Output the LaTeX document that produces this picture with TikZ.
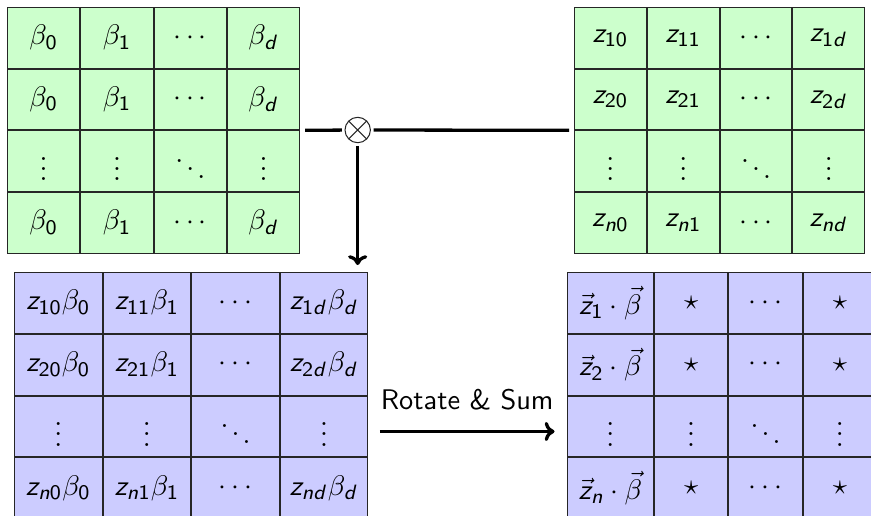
\documentclass[tikz,border=0pt,11pt]{standalone}
\usepackage{amsmath,amssymb}
\usepackage{tikz}
\usetikzlibrary{arrows.meta,matrix,calc}
% sans digits and letters in math, greek stays as is
\DeclareSymbolFont{sfdigits}{OT1}{cmss}{m}{n}
\DeclareSymbolFont{sfletters}{OT1}{cmss}{m}{sl}
\DeclareMathSymbol{0}{\mathalpha}{sfdigits}{`0}
\DeclareMathSymbol{1}{\mathalpha}{sfdigits}{`1}
\DeclareMathSymbol{2}{\mathalpha}{sfdigits}{`2}
\DeclareMathSymbol{z}{\mathalpha}{sfletters}{`z}
\DeclareMathSymbol{d}{\mathalpha}{sfletters}{`d}
\DeclareMathSymbol{n}{\mathalpha}{sfletters}{`n}
\definecolor{CellGreen}{HTML}{CCFFCC}
\definecolor{CellBlue}{HTML}{CCCCFF}
\definecolor{Edge}{HTML}{262626}

\begin{document}
\begin{tikzpicture}[x=0.386pt,y=0.386pt,
    cell/.style={draw=Edge,inner sep=0pt,anchor=center,minimum height=23.4pt},
    grid/.style={matrix of math nodes,inner sep=0pt,outer sep=0pt,
      column sep=0pt,row sep=0pt,anchor=north west},
    conn/.style={line width=1.27pt,line cap=butt},
    tip/.style={-{Computer Modern Rightarrow[length=3.8pt,width=7.4pt]}}]
        \useasboundingbox (0,0) rectangle (871,-515);
        \clip (0,0) rectangle (871,-515);
        % inputs
        \matrix (beta) [grid,nodes={cell,fill=CellGreen,minimum width=27.9pt}] at (7,-7) {
          \beta_0 & \beta_1 & \cdots & \beta_d \\
          \beta_0 & \beta_1 & \cdots & \beta_d \\
          \vdots & \vdots & \ddots & \vdots \\
          \beta_0 & \beta_1 & \cdots & \beta_d \\
        };
        \matrix (zmat) [grid,nodes={cell,fill=CellGreen,minimum width=27.7pt}] at (574,-7) {
          z_{10} & z_{11} & \cdots & z_{1d} \\
          z_{20} & z_{21} & \cdots & z_{2d} \\
          \vdots & \vdots & \ddots & \vdots \\
          z_{n0} & z_{n1} & \cdots & z_{nd} \\
        };
        % outputs
        \matrix (zbeta) [grid,nodes={cell,fill=CellBlue,minimum width=33.8pt,minimum height=23.45pt}] at (14,-272) {
          z_{10}\beta_0 & z_{11}\beta_1 & \cdots & z_{1d}\beta_d \\
          z_{20}\beta_0 & z_{21}\beta_1 & \cdots & z_{2d}\beta_d \\
          \vdots & \vdots & \ddots & \vdots \\
          z_{n0}\beta_0 & z_{n1}\beta_1 & \cdots & z_{nd}\beta_d \\
        };
        \matrix (dotmat) [grid,nodes={cell,fill=CellBlue,minimum width=28.3pt,minimum height=23.45pt},
          column 1/.style={nodes={minimum width=33.3pt}}] at (566.7,-272) {
          \vec{z}_1\cdot\vec{\beta} & \star & \cdots & \star \\
          \vec{z}_2\cdot\vec{\beta} & \star & \cdots & \star \\
          \vdots & \vdots & \ddots & \vdots \\
          \vec{z}_n\cdot\vec{\beta} & \star & \cdots & \star \\
        };
        \node[circle,draw=Edge,minimum size=9.8pt,inner sep=0pt,outer sep=1.2pt,
          path picture={\draw[Edge] (path picture bounding box.north west) -- (path picture bounding box.south east)
            (path picture bounding box.south west) -- (path picture bounding box.north east);}]
          (prod) at (357.7,-130) {};
        \draw[conn,shorten <=1.9pt] (beta.east) -- (prod);
        \draw[conn,shorten >=1.9pt] (prod) -- (zmat.west);
        \draw[conn,tip,shorten >=2.7pt] (prod) -- (prod |- zbeta.north);
        \draw[conn,tip] ([shift={(12,-5)}]zbeta-3-4.east) -- node[above=4pt,font=\sffamily] {Rotate \& Sum}
          ([shift={(-12.7,-5)}]dotmat-3-1.west);
      \end{tikzpicture}
\end{document}
